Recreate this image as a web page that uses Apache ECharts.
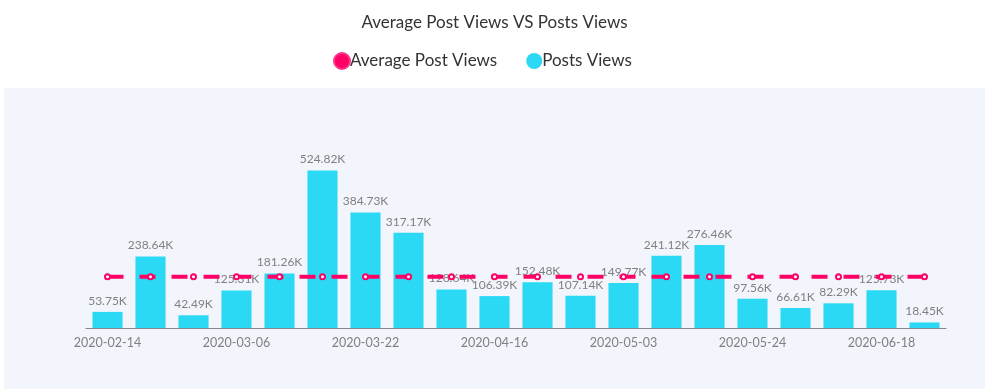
<!DOCTYPE html>
<html><head><meta charset="utf-8">
<script src="https://cdn.jsdelivr.net/npm/echarts@6/dist/echarts.min.js"></script>
<style>html,body{margin:0;padding:0;background:#fff}#c{width:989px;height:389px}</style>
</head><body><div id="c"></div>
<script>
var categories = ['2020-02-14','2020-02-21','2020-02-28','2020-03-06','2020-03-11','2020-03-17','2020-03-22','2020-03-29','2020-04-07','2020-04-16','2020-04-22','2020-04-27','2020-05-03','2020-05-10','2020-05-17','2020-05-24','2020-06-01','2020-06-10','2020-06-18','2020-06-25'];
var postsViews = [53750,238640,42490,125310,181260,524820,384730,317170,128640,106390,152480,107140,149770,241120,276460,97560,66610,82290,125730,18450];
var averageViews = [171040,171040,171040,171040,171040,171040,171040,171040,171040,171040,171040,171040,171040,171040,171040,171040,171040,171040,171040,171040];

var chart = echarts.init(document.getElementById('c'));
var font = 'Lato, "Open Sans", sans-serif';
chart.setOption({
  animation: false,
  textStyle: {fontFamily: font},
  graphic: [{type: 'rect', z: -10, shape: {x: 4, y: 88, width: 981, height: 301}, style: {fill: '#f2f5fc'}}],
  title: {text: 'Average Post Views VS Posts Views', left: 'center', top: 9,
    textStyle: {fontSize: 17, fontWeight: 'normal', color: '#333', fontFamily: font}},
  legend: {top: 47, left: 328, itemGap: 29, itemWidth: 16, itemHeight: 16,
    textStyle: {fontSize: 17, color: '#333', fontFamily: font, padding: [0,0,0,-5]},
    data: [{name: 'Average Post Views', icon: 'circle'}, {name: 'Posts Views', icon: 'circle'}]},
  grid: {left: 86, right: 43, top: 148, bottom: 61, containLabel: false},
  xAxis: {type: 'category', data: categories,
    axisLine: {lineStyle: {color: '#888'}},
    axisTick: {alignWithLabel: true, interval: 2, lineStyle: {color: '#888'}},
    axisLabel: {interval: 2, color: '#808080', fontSize: 12.5, fontFamily: font}},
  yAxis: {type: 'value', min: 0, max: 600000, show: false, splitLine: {show: false}},
  series: [
    {name: 'Posts Views', type: 'bar', data: postsViews, barWidth: '70%', z: 2,
      itemStyle: {color: '#2cd9f5'},
      label: {show: true, position: 'top', color: '#808080', fontSize: 12, fontFamily: font,
        formatter: function(p){ return (p.value/1000).toFixed(2) + 'K'; }}},
    {name: 'Average Post Views', type: 'line', data: averageViews, z: 3,
      symbol: 'emptyCircle', symbolSize: 5, showAllSymbol: true,
      itemStyle: {color: '#ff0066', borderColor: '#ff3388', borderWidth: 1},
      lineStyle: {color: '#ff0066', width: 4, type: [16, 16]}}
  ]
});
</script></body></html>
